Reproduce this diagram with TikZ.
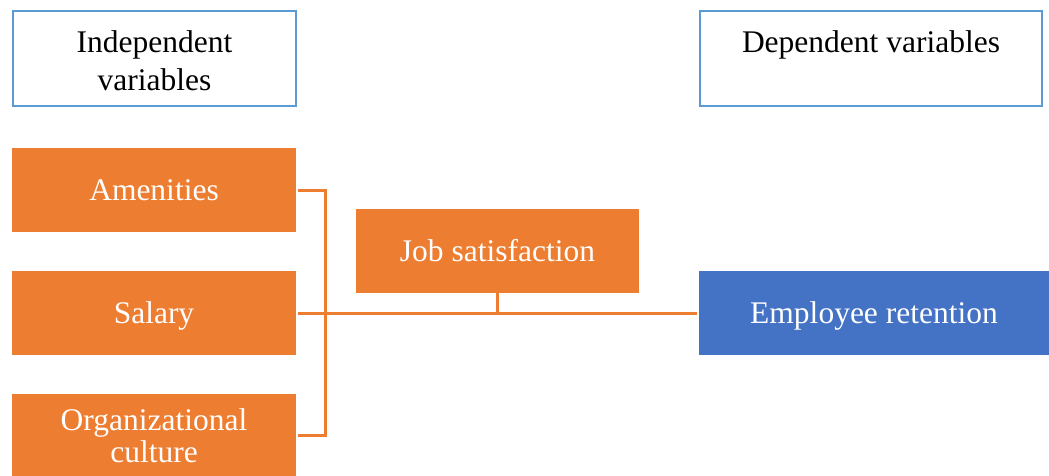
\documentclass[tikz,border=0pt]{standalone}
\usepackage{fontspec}
\setmainfont{Liberation Serif}
\definecolor{orng}{HTML}{ED7D31}
\definecolor{blu}{HTML}{4472C4}
\definecolor{lblu}{HTML}{5B9BD5}
\begin{document}
\begin{tikzpicture}[x=1pt,y=-1pt,
  hdr/.style={draw=lblu,line width=2.5pt,fill=white,minimum width=283,minimum height=95,inner sep=0},
  obox/.style={fill=orng,minimum width=284,minimum height=84,inner sep=0},
  bbox/.style={fill=blu,minimum width=350,minimum height=84,inner sep=0},
  lbl/.style={text=black,anchor=base,inner sep=0,font=\fontsize{31.5}{37}\selectfont},
  wlbl/.style={lbl,text=white},
  conn/.style={draw=orng,line width=3pt}]
\useasboundingbox (0,0) rectangle (1049,475);
% header boxes
\node[hdr] (ivbox) at (154.5,58.5) {};
\node[lbl] (iv1) at (154.5,52) {Independent};
\node[lbl] (iv2) at (154.5,90) {variables};
\node[hdr,minimum width=342] (dvbox) at (871,58.5) {};
\node[lbl] (dv) at (871,52) {Dependent variables};
% coloured boxes
\node[obox] (am) at (154,190) {};
\node[wlbl] (amt) at (154,200) {Amenities};
\node[obox] (sal) at (154,313) {};
\node[wlbl] (salt) at (154,323) {Salary};
\node[obox,minimum height=82] (org) at (154,435) {};
\node[wlbl] (org1) at (154,430) {Organizational};
\node[wlbl] (org2) at (154,462) {culture};
\node[obox,minimum width=283] (js) at (497.5,251) {};
\node[wlbl] (jst) at (497.5,261) {Job satisfaction};
\node[bbox] (er) at (874,313) {};
\node[wlbl] (ert) at (874,323) {Employee retention};
% connectors
\coordinate (bx) at (325,313);
\draw[conn] ([xshift=2]am.east) -| (bx) |- ([xshift=2]org.east);
\draw[conn] ([xshift=2]sal.east) -- ([xshift=-2]er.west);
\draw[conn] ([yshift=3]js.south) -- (js.south |- sal.east);
\end{tikzpicture}
\end{document}
